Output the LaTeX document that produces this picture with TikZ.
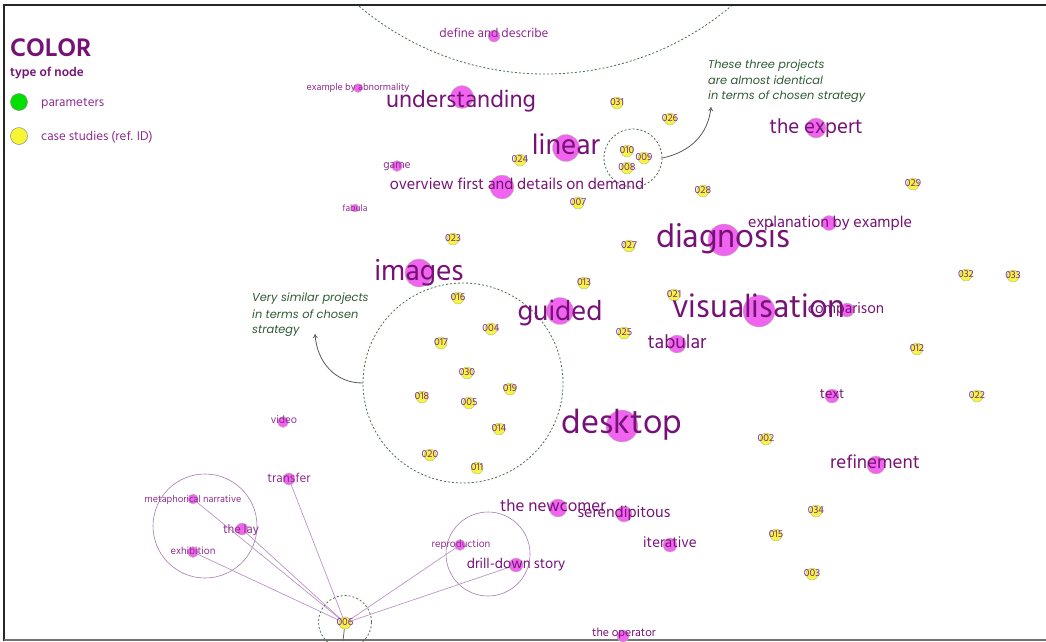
\documentclass[tikz,border=0pt]{standalone}
\usepackage{fontspec}
\setmainfont{Hind Siliguri}
\newfontfamily\annotfont{Poppins}
\usetikzlibrary{arrows.meta}
\definecolor{dotpink}{HTML}{F064F0}
\definecolor{dotedge}{HTML}{B8C8A8}
\definecolor{dotyellow}{HTML}{F4F442}
\definecolor{yedge}{HTML}{B0BE88}
\definecolor{lblpurple}{HTML}{761276}
\definecolor{smpurple}{HTML}{8E2C8E}
\definecolor{numpurple}{HTML}{7E2A8C}
\definecolor{anngreen}{HTML}{2F5A33}
\definecolor{dashgreen}{HTML}{4E6E50}
\definecolor{linkpurple}{HTML}{BE94C6}
\definecolor{ringpurple}{HTML}{A67AAE}
\definecolor{legendgreen}{HTML}{00E000}
\newcommand\fs[1]{\fontsize{#1}{#1}\selectfont}
\begin{document}
\begin{tikzpicture}[x=1pt,y=-1pt,
  pdot/.style={circle,fill=dotpink,draw=dotedge,line width=0.4pt,inner sep=0pt,minimum size=#1},
  ydot/.style={circle,fill=dotyellow,draw=yedge,line width=0.4pt,inner sep=0pt,minimum size=12pt},
  lbl/.style={text=lblpurple,inner sep=0pt,anchor=base,font=\fs{#1}},
  slbl/.style={text=smpurple,inner sep=0pt,anchor=base,font=\fs{#1}},
  num/.style={text=numpurple,inner sep=0pt,font=\fs{10.5},yshift=1pt},
  dashring/.style={circle,draw=dashgreen,dash pattern=on 2pt off 2pt,line width=0.8pt,inner sep=0pt,minimum size=#1},
  ring/.style={circle,draw=ringpurple,line width=0.6pt,inner sep=0pt,minimum size=#1},
  link/.style={draw=linkpurple,line width=0.7pt},
  annot/.style={text=anngreen,inner sep=0pt,anchor=base west,align=left,font=\annotfont\itshape\fs{11.4}},
  annarrow/.style={draw=black!65,line width=0.8pt,-{To[length=4pt,width=5pt]}},
  frameline/.style={line width=2pt,draw=black!85}
]
\useasboundingbox (0,0) rectangle (1046,641);

% frame
\draw[frameline] (4,641) -- (4,5) -- (1046,5);
\draw[line width=2pt,draw=black!55] (4,640) -- (1046,640);

% big dashed circle at the top (clipped to frame)
\begin{scope}
\clip (5,6) rectangle (1046,641);
\node[dashring=578pt] (gtop) at (545,-215) {};
\end{scope}

% groups
\node[dashring=58pt] (gthree) at (633,158) {};
\node[dashring=200pt] (gsimilar) at (463,383) {};
\node[dashring=53pt] (gsix) at (345,622) {};
\node[ring=104pt] (rleft) at (205,526) {};
\node[ring=84pt] (rright) at (488,554) {};

% ---------- dots ----------
% case studies
\node[ydot] (c031) at (617,103) {};
\node[ydot] (c026) at (670,119) {};
\node[ydot] (c010) at (627,151) {};
\node[ydot] (c009) at (644,158) {};
\node[ydot] (c008) at (627,168) {};
\node[ydot] (c024) at (520,160) {};
\node[ydot] (c007) at (578,203) {};
\node[ydot] (c028) at (703,191) {};
\node[ydot] (c029) at (913,184) {};
\node[ydot] (c023) at (453,239) {};
\node[ydot] (c027) at (629,246) {};
\node[ydot] (c013) at (584,283) {};
\node[ydot] (c032) at (966,275) {};
\node[ydot] (c033) at (1013,276) {};
\node[ydot] (c021) at (674,295) {};
\node[ydot] (c016) at (458,298) {};
\node[ydot] (c004) at (491,329) {};
\node[ydot] (c017) at (441,343) {};
\node[ydot] (c025) at (624,333) {};
\node[ydot] (c012) at (917,349) {};
\node[ydot] (c030) at (467,373) {};
\node[ydot] (c019) at (510,389) {};
\node[ydot] (c018) at (422,397) {};
\node[ydot] (c005) at (469,403) {};
\node[ydot] (c014) at (499,429) {};
\node[ydot] (c022) at (977,396) {};
\node[ydot] (c002) at (766,439) {};
\node[ydot] (c020) at (430,455) {};
\node[ydot] (c011) at (477,468) {};
\node[ydot] (c034) at (816,511) {};
\node[ydot] (c015) at (776,535) {};
\node[ydot] (c003) at (812,574) {};
\node[ydot] (c006) at (345,623) {};

% parameters
\node[pdot=12pt] (ddefine) at (494,36) {};
\node[pdot=9pt] (dabnorm) at (358,88) {};
\node[pdot=23pt] (dunder) at (462,97) {};
\node[pdot=27pt] (dlinear) at (566,148) {};
\node[pdot=11pt] (dgame) at (397,166) {};
\node[pdot=24pt] (doverview) at (502,187) {};
\node[pdot=8pt] (dfabula) at (355,208) {};
\node[pdot=20pt] (dexpert) at (816,128) {};
\node[pdot=15pt] (dexplan) at (829,223) {};
\node[pdot=32pt] (ddiag) at (724,240) {};
\node[pdot=28pt] (dimages) at (419,273) {};
\node[pdot=27pt] (dguided) at (560,311) {};
\node[pdot=32pt] (dvis) at (759,311) {};
\node[pdot=14pt] (dcomp) at (847,310) {};
\node[pdot=18pt] (dtab) at (677,344) {};
\node[pdot=14pt] (dtext) at (832,396) {};
\node[pdot=32pt] (ddesk) at (622,426) {};
\node[pdot=18pt] (drefine) at (876,465) {};
\node[pdot=11pt] (dvideo) at (283,422) {};
\node[pdot=12pt] (dtransfer) at (289,479) {};
\node[pdot=10pt] (dmeta) at (193,499) {};
\node[pdot=12pt] (dlay) at (242,529) {};
\node[pdot=11pt] (dexhib) at (193,552) {};
\node[pdot=11pt] (drepro) at (460,545) {};
\node[pdot=14pt] (ddrill) at (516,565) {};
\node[pdot=18pt] (dnewcomer) at (558,508) {};
\node[pdot=16pt] (dseren) at (624,514) {};
\node[pdot=14pt] (diter) at (670,545) {};
\node[pdot=12pt] (doperator) at (623,636) {};

% links of case 006
\path[link] (c006.center) -- (dmeta.center);
\path[link] (c006.center) -- (dlay.center);
\path[link] (c006.center) -- (dexhib.center);
\path[link] (c006.center) -- (dtransfer.center);
\path[link] (c006.center) -- (drepro.center);
\path[link] (c006.center) -- (ddrill.center);
\coordinate (sixdown) at (343,641);
\draw[draw=black!60,line width=0.8pt] (c006.center) -- (sixdown);
\node[ydot] (c006top) at (c006) {};

% ---------- labels ----------
\node[slbl=13] (tdefine) at (494,37) {define and describe};
\node[slbl=10] (tabnorm) at (358,90) {example by abnormality};
\node[lbl=24.2] (tunder) at (461,107) {understanding};
\node[lbl=29] (tlinear) at (566,154) {linear};
\node[slbl=11.5] (tgame) at (397,168) {game};
\node[lbl=16.1] (toverview) at (517,189) {overview first and details on demand};
\node[slbl=9.5] (tfabula) at (355,211) {fabula};
\node[lbl=21] (texpert) at (816,133) {the expert};
\node[lbl=16.1] (texplan) at (830,227) {explanation by example};
\node[lbl=33.5] (tdiag) at (723,247) {diagnosis};
\node[lbl=29.5] (timages) at (419,280) {images};
\node[lbl=28.5] (tguided) at (560,320) {guided};
\node[lbl=33] (tvis) at (759,317) {visualisation};
\node[lbl=15.3] (tcomp) at (846,313) {comparison};
\node[lbl=19.5] (ttab) at (677,348) {tabular};
\node[lbl=14] (ttext) at (832,398) {text};
\node[lbl=34.5] (tdesk) at (622,433) {desktop};
\node[lbl=19] (trefine) at (875,468) {refinement};
\node[slbl=11] (tvideo) at (284,423) {video};
\node[slbl=13] (ttransfer) at (289,482) {transfer};
\node[slbl=10] (tmeta) at (193,502) {metaphorical narrative};
\node[slbl=12.5] (tlay) at (241,533) {the lay};
\node[slbl=10.5] (texhib) at (193,554) {exhibition};
\node[slbl=10.5] (trepro) at (461,547) {reproduction};
\node[lbl=14.5] (tdrill) at (516,568) {drill-down story};
\node[lbl=17] (tnewcomer) at (553,511) {the newcomer};
\node[lbl=16] (tseren) at (624,517) {serendipitous};
\node[lbl=15] (titer) at (670,547) {iterative};
\node[lbl=11.8] (toperator) at (624,636) {the operator};

% case-study labels
\foreach \c in {031,026,010,009,008,024,007,028,029,023,027,013,032,033,021,016,004,017,025,012,030,019,018,005,014,022,002,020,011,034,015,003,006}{
  \node[num] (l\c) at (c\c) {\c};
}

% annotations
\node[annot] (annthree) at (708,99) {These three projects\\[3.2pt]are almost identical\\[3.2pt]in terms of chosen strategy};
\coordinate (threetip) at (711,107);
\draw[annarrow] (gthree.east) .. controls (690,152) and (708,135) .. (threetip);
\node[annot] (annsim) at (252,333) {Very similar projects\\[3.6pt]in terms of chosen\\[3.6pt]strategy};
\coordinate (simtip) at (315,334);
\draw[annarrow] (gsimilar.west) .. controls (335,383) and (317,362) .. (simtip);

% legend
\node[text=lblpurple,inner sep=0pt,anchor=base west,font=\fs{26}\bfseries] (legtitle) at (10,56) {COLOR};
\node[text=lblpurple,inner sep=0pt,anchor=base west,font=\fs{13}\bfseries] (legsub) at (10,76) {type of node};
\node[circle,fill=legendgreen,draw=black!45,line width=0.5pt,minimum size=17pt,inner sep=0pt] (leggreen) at (19,102) {};
\node[text=smpurple,inner sep=0pt,anchor=base west,font=\fs{13}] (legparam) at (41,106) {parameters};
\node[circle,fill=dotyellow!80!yellow,draw=black!45,line width=0.5pt,minimum size=17pt,inner sep=0pt] (legyellow) at (19,136) {};
\node[text=smpurple,inner sep=0pt,anchor=base west,font=\fs{13}] (legcase) at (41,140) {case studies (ref. ID)};
\end{tikzpicture}
\end{document}
